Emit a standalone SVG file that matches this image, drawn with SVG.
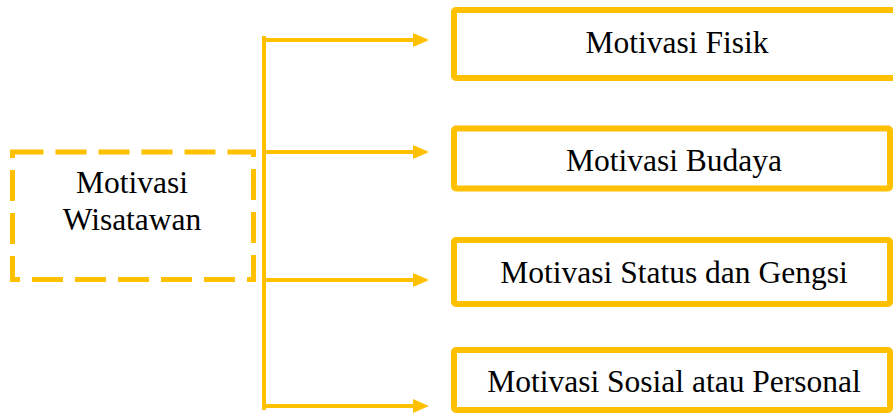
<svg xmlns="http://www.w3.org/2000/svg" width="893" height="414" viewBox="0 0 893 414">
<style>
.box{fill:#fff;stroke:#FFC000;stroke-width:6;}
.dash{fill:#fff;stroke:#FFC000;stroke-width:5;stroke-dasharray:31 12;}
.conn{stroke:#FFC000;stroke-width:4;fill:none;}
text{font-family:'Liberation Serif','DejaVu Serif',serif;font-size:31.5px;fill:#000;text-anchor:middle;}
</style>
<defs>
<marker id="ah" viewBox="0 0 16 14" refX="0" refY="7" markerWidth="16" markerHeight="14" markerUnits="userSpaceOnUse" orient="auto">
<path d="M0,0 L16,7 L0,14 Z" fill="#FFC000"/>
</marker>
</defs>
<g id="connectors">
<line class="conn" x1="264" y1="36" x2="264" y2="410"/>
<line class="conn" x1="262" y1="40" x2="413" y2="40" marker-end="url(#ah)"/>
<line class="conn" x1="262" y1="152" x2="413" y2="152" marker-end="url(#ah)"/>
<line class="conn" x1="262" y1="280" x2="413" y2="280" marker-end="url(#ah)"/>
<line class="conn" x1="262" y1="406" x2="413" y2="406" marker-end="url(#ah)"/>
</g>
<g id="node-wisatawan">
<rect class="dash" x="12.5" y="152" width="241" height="127.5"/>
<text font-family="Liberation Serif, serif" x="132" y="193">Motivasi</text>
<text font-family="Liberation Serif, serif" x="132" y="230">Wisatawan</text>
</g>
<g id="node-fisik">
<rect class="box" x="454" y="10" width="446" height="68" rx="2"/>
<text x="677" y="53">Motivasi Fisik</text>
</g>
<g id="node-budaya">
<rect class="box" x="454" y="128.5" width="436" height="60" rx="2"/>
<text x="674" y="171">Motivasi Budaya</text>
</g>
<g id="node-status">
<rect class="box" x="454" y="240" width="436" height="64" rx="2"/>
<text x="674" y="283">Motivasi Status dan Gengsi</text>
</g>
<g id="node-sosial">
<rect class="box" x="454" y="350" width="436" height="60" rx="2"/>
<text x="674" y="392">Motivasi Sosial atau Personal</text>
</g>
</svg>
